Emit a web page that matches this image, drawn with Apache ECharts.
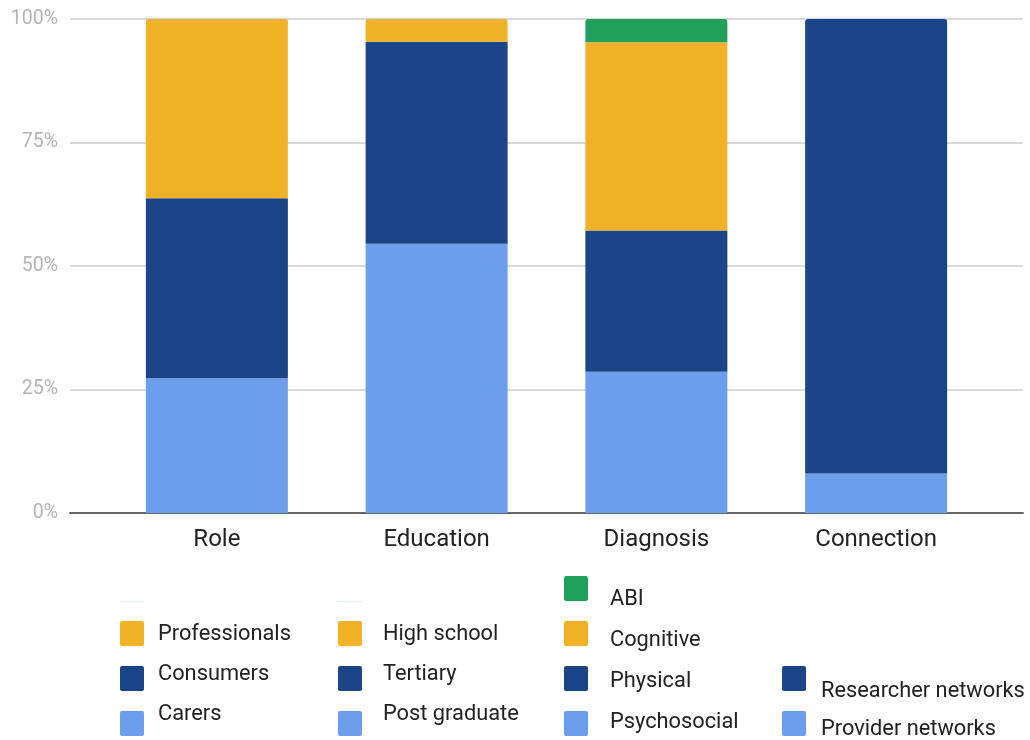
<!DOCTYPE html>
<html>
<head>
<meta charset="utf-8">
<title>Participant profile</title>
<script src="https://cdn.jsdelivr.net/npm/echarts@6/dist/echarts.min.js"></script>
<style>
  html, body { margin: 0; padding: 0; background: #ffffff; }
  #chart { width: 1030px; height: 740px; }
</style>
</head>
<body>
<div id="chart"></div>
<script>
// Categories along the x axis
const categories = ['Role', 'Education', 'Diagnosis', 'Connection'];
const yTicks = [0, 25, 50, 75, 100];

// Share (%) of each group within its category, listed bottom to top
const roleNames = ['Carers', 'Consumers', 'Professionals'];
const roleValues = [27.3, 36.4, 36.3];
const educationNames = ['Post graduate', 'Tertiary', 'High school'];
const educationValues = [54.5, 40.9, 4.6];
const diagnosisNames = ['Psychosocial', 'Physical', 'Cognitive', 'ABI'];
const diagnosisValues = [28.6, 28.6, 38.1, 4.7];
const connectionNames = ['Provider networks', 'Researcher networks'];
const connectionValues = [8.0, 92.0];

// Palette by stacking level (bottom to top)
const levelColors = ['#6d9eeb', '#1c4587', '#f1b22a', '#20a05b'];

const groups = [
  { names: roleNames, values: roleValues },
  { names: educationNames, values: educationValues },
  { names: diagnosisNames, values: diagnosisValues },
  { names: connectionNames, values: connectionValues }
];

// Build one stacked series per group entry
const series = [];
groups.forEach(function (g, ci) {
  g.names.forEach(function (name, li) {
    const data = categories.map(function (_, k) { return k === ci ? g.values[li] : '-'; });
    const isTop = li === g.names.length - 1;
    series.push({
      name: name,
      type: 'bar',
      xAxisIndex: 1,
      yAxisIndex: 1,
      stack: 'total',
      barWidth: 142,
      data: data,
      itemStyle: {
        color: levelColors[li],
        borderRadius: isTop ? [3, 3, 0, 0] : 0
      },
      emphasis: { disabled: true }
    });
  });
});

// Legend columns laid out under each bar
const legendFont = '21.8px Roboto, "Liberation Sans", Arial, sans-serif';
const columns = [
  { swatchX: 120, textX: 158, swatchTops: [711, 666, 621], textYs: [715, 675, 635] },
  { swatchX: 338, textX: 383, swatchTops: [711, 666, 621], textYs: [715, 675, 635] },
  { swatchX: 564, textX: 610, swatchTops: [711, 666, 621, 576], textYs: [723, 682, 641, 600] },
  { swatchX: 782, textX: 821, swatchTops: [711, 666], textYs: [730, 692] }
];
const graphics = [];
groups.forEach(function (g, ci) {
  const col = columns[ci];
  g.names.forEach(function (name, li) {
    graphics.push({
      type: 'rect',
      shape: { x: col.swatchX, y: col.swatchTops[li], width: 24, height: 25, r: 2 },
      style: { fill: levelColors[li] },
      silent: true
    });
    graphics.push({
      type: 'text',
      x: col.textX,
      y: col.textYs[li],
      style: {
        text: name,
        font: legendFont,
        fill: '#222222',
        verticalAlign: 'middle',
        textVerticalAlign: 'middle'
      },
      silent: true
    });
  });
});
// faint empty slots above the first two legend columns
[120, 338].forEach(function (x) {
  graphics.push({
    type: 'line',
    shape: { x1: x, y1: 601.5, x2: x + 24, y2: 601.5 },
    style: { stroke: '#e4f2ee', lineWidth: 1 },
    silent: true
  });
});

const chart = echarts.init(document.getElementById('chart'), null, { renderer: 'canvas' });
chart.setOption({
  animation: false,
  backgroundColor: '#ffffff',
  grid: [
    { left: 70, right: 7, top: 19, bottom: 227 },
    { left: 107, right: 44, top: 19, bottom: 227 }
  ],
  xAxis: [
    {
      type: 'category',
      gridIndex: 0,
      data: [''],
      axisLine: { show: true, lineStyle: { color: '#666666', width: 2 } },
      axisTick: { show: false },
      axisLabel: { show: false },
      splitLine: { show: false }
    },
    {
      type: 'category',
      gridIndex: 1,
      data: categories,
      axisLine: { show: false },
      axisTick: { show: false },
      axisLabel: {
        color: '#222222',
        fontSize: 24,
        fontFamily: 'Roboto, "Liberation Sans", Arial, sans-serif',
        margin: 15
      }
    }
  ],
  yAxis: [
    {
      type: 'value',
      gridIndex: 0,
      min: yTicks[0],
      max: yTicks[yTicks.length - 1],
      interval: 25,
      axisLine: { show: false },
      axisTick: { show: false },
      axisLabel: {
        color: '#b5b5b5',
        fontSize: 19.5,
        fontFamily: 'Roboto, "Liberation Sans", Arial, sans-serif',
        margin: 12,
        formatter: function (v) { return v + '%'; }
      },
      splitLine: { lineStyle: { color: '#d9d9d9', width: 2 } }
    },
    {
      type: 'value',
      gridIndex: 1,
      min: 0,
      max: 100,
      show: false,
      splitLine: { show: false }
    }
  ],
  series: series,
  graphic: graphics
});
</script>
</body>
</html>
